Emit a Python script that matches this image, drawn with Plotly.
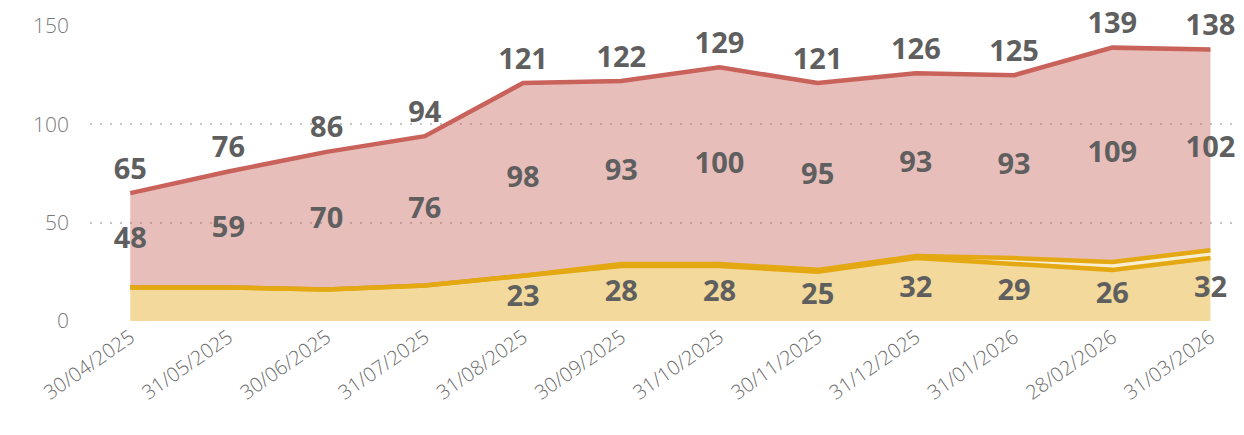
import plotly.graph_objects as go
import numpy as np  # Ensure numpy is imported

# Month-end dates shown on the x-axis
dates = ['30/04/2025', '31/05/2025', '30/06/2025', '31/07/2025', '31/08/2025', '30/09/2025',
         '31/10/2025', '30/11/2025', '31/12/2025', '31/01/2026', '28/02/2026', '31/03/2026']

# Stacked series, bottom to top
base_values = [17, 17, 16, 18, 23, 28, 28, 25, 32, 29, 26, 32]
extra_values = [0, 0, 0, 0, 0, 1, 1, 1, 1, 3, 4, 4]
main_values = [48, 59, 70, 76, 98, 93, 100, 95, 93, 93, 109, 102]

y_ticks = [0, 50, 100, 150]


def create_stacked_area_chart(dates, base_values, extra_values, main_values):
    """
    Create a stacked area chart with value labels for each band.

    Args:
        dates: List of category labels for the x-axis
        base_values: Values of the bottom (yellow) band
        extra_values: Values of the thin middle band
        main_values: Values of the top (red) band

    Returns:
        Plotly figure object
    """
    base = np.array(base_values)
    extra = np.array(extra_values)
    main = np.array(main_values)
    total = base + extra + main

    fig = go.Figure()

    # Bottom band (semi-transparent so the dotted grid shows through)
    fig.add_trace(go.Scatter(
        x=dates, y=base, stackgroup='one', mode='lines',
        line=dict(color='#E3A812', width=4.5),
        fillcolor='rgba(227, 168, 18, 0.42)', hoverinfo='skip'
    ))
    # Thin band between the two yellow lines
    fig.add_trace(go.Scatter(
        x=dates, y=extra, stackgroup='one', mode='lines',
        line=dict(color='#E3A812', width=4.5),
        fillcolor='rgba(227, 168, 18, 0.2)', hoverinfo='skip'
    ))
    # Top band
    fig.add_trace(go.Scatter(
        x=dates, y=main, stackgroup='one', mode='lines',
        line=dict(color='#C8625A', width=4.5),
        fillcolor='rgba(200, 98, 90, 0.41)', hoverinfo='skip'
    ))

    label_font = dict(family='Noto Sans', size=29, color='#5F5F5F', weight='bold')

    # Total labels above the top line (invisible marker pushes the text up)
    fig.add_trace(go.Scatter(
        x=dates, y=total, mode='markers+text',
        marker=dict(size=10, opacity=0),
        text=[str(v) for v in total], textposition='top center',
        textfont=label_font, hoverinfo='skip'
    ))
    # Labels in the middle of the red band
    fig.add_trace(go.Scatter(
        x=dates, y=base + extra + main / 2, mode='text',
        text=[str(v) for v in main], textposition='middle center',
        textfont=label_font, hoverinfo='skip'
    ))
    # Labels in the yellow band (hidden where the band is too thin)
    fig.add_trace(go.Scatter(
        x=dates, y=base / 2, mode='text',
        text=[str(v) if v >= 20 else '' for v in base], textposition='middle center',
        textfont=label_font, hoverinfo='skip'
    ))

    fig.update_traces(cliponaxis=False)

    # Page body adds an 8px margin, so the figure is sized to fit inside it
    fig.update_layout(
        width=1228,
        height=419,
        showlegend=False,
        plot_bgcolor='white',
        paper_bgcolor='white',
        xaxis=dict(
            range=[-0.41, 11.26],
            tickangle=-35,
            tickfont=dict(family='Open Sans', size=20, color='#6A6A6A', weight=300),
            showgrid=False,
            showline=False,
            ticks='',
            automargin=False
        ),
        yaxis=dict(
            range=[0, 150],
            tickvals=y_ticks,
            tickfont=dict(family='Open Sans', size=21, color='#7A7A7A', weight=300),
            showgrid=True,
            gridcolor='#C4C4C4',
            griddash='2px,8px',
            gridwidth=2,
            zeroline=False,
            ticklabelstandoff=20,
            automargin=False
        ),
        margin=dict(l=82, r=0, t=18, b=106)
    )

    return fig


fig = create_stacked_area_chart(dates, base_values, extra_values, main_values)
fig.write_html("out.html")
